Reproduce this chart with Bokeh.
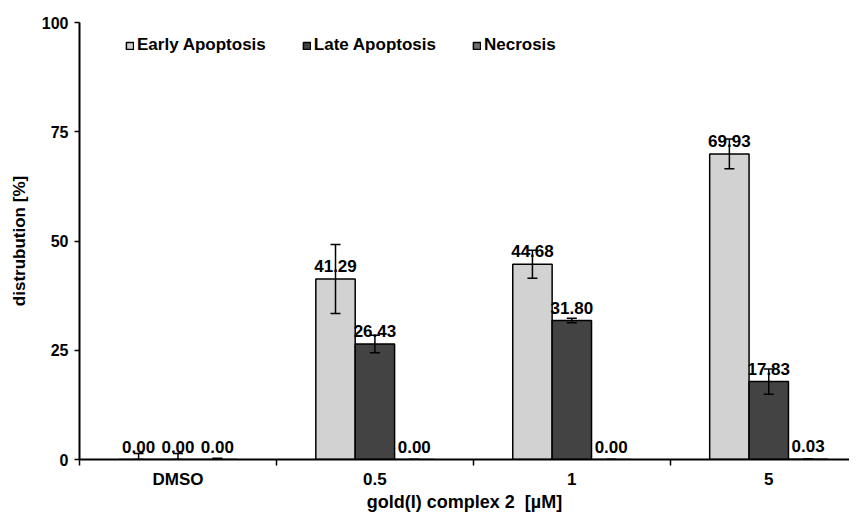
from bokeh.plotting import figure
from bokeh.models import (ColumnDataSource, FixedTicker, Whisker, TeeHead, Legend, LegendItem, Range1d)
from bokeh.embed import file_html
from bokeh.resources import INLINE
from bokeh.core.properties import value

categories = ["DMSO", "0.5", "1", "5"]
series = ["Early Apoptosis", "Late Apoptosis", "Necrosis"]
early = [0.00, 41.29, 44.68, 69.93]
late = [0.00, 26.43, 31.80, 17.83]
necrosis = [0.00, 0.00, 0.00, 0.03]
early_err = [1.4, 7.9, 3.2, 3.4]
late_err = [1.4, 2.0, 0.5, 2.9]
necrosis_err = [0.3, 0.0, 0.0, 0.1]
colors = ["#d2d2d2", "#434343", "#707070"]
y_ticks = [0, 25, 50, 75, 100]

FONT = "Liberation Sans"

p = figure(frame_width=770, frame_height=437, output_backend="svg", toolbar_location=None,
           x_range=Range1d(0, 3.91), y_range=Range1d(0, 100),
           min_border_left=79, min_border_right=0, min_border_top=22, min_border_bottom=45)
p.outline_line_color = None
p.xgrid.grid_line_color = None
p.ygrid.grid_line_color = None
p.background_fill_color = "white"

offsets = [-0.2, 0.0, 0.2]
vals = [early, late, necrosis]
errs = [early_err, late_err, necrosis_err]
renderers = []
for k in range(3):
    xs = [i + 0.5 + offsets[k] for i in range(len(categories))]
    src = ColumnDataSource(dict(
        x=xs, top=vals[k],
        upper=[v + e for v, e in zip(vals[k], errs[k])],
        lower=[max(v - e, 0) if v > 0 else v for v, e in zip(vals[k], errs[k])],
        label=["%.2f" % v for v in vals[k]],
    ))
    r = p.vbar(x="x", top="top", width=0.2, source=src, fill_color=colors[k],
               line_color="black", line_width=1.5)
    renderers.append(r)
    w = Whisker(base="x", upper="upper", lower="lower", source=src,
                line_color="black", line_width=1.5, level="overlay",
                upper_head=TeeHead(size=10, line_width=1.5, line_color="black"),
                lower_head=TeeHead(size=10, line_width=1.5, line_color="black"))
    p.add_layout(w)
    p.text(x="x", y="top", text="label", source=src, text_align="center",
           text_baseline="alphabetic", y_offset=-13, text_font=value(FONT),
           text_font_style="bold", text_font_size="17px", text_color="black")

# legend
legend = Legend(items=[LegendItem(label=series[k], renderers=[renderers[k]]) for k in range(3)],
                orientation="horizontal", location=(46, 404), margin=0, padding=10,
                spacing=36, glyph_width=9, glyph_height=9, label_standoff=3,
                label_text_font=FONT, label_text_font_style="bold", label_text_font_size="17px",
                label_text_color="black",
                border_line_color=None, background_fill_alpha=0)
p.add_layout(legend, "center")

# x axis
xa = p.xaxis[0]
xa.ticker = FixedTicker(ticks=[i + 0.5 for i in range(len(categories))],
                        minor_ticks=list(range(len(categories) + 1)))
xa.major_label_overrides = {i + 0.5: c for i, c in enumerate(categories)}
xa.major_tick_line_color = None
xa.major_tick_out = 6
xa.minor_tick_out = 6
xa.minor_tick_in = 0
xa.minor_tick_line_width = 1.5
xa.minor_tick_line_color = "black"
xa.axis_line_width = 2
xa.axis_line_color = "black"
xa.major_label_standoff = 4
xa.major_label_text_font = FONT
xa.major_label_text_font_style = "bold"
xa.major_label_text_font_size = "17px"
xa.major_label_text_color = "black"
xa.axis_label = "gold(I) complex 2\u00a0\u00a0[µM]"
xa.axis_label_text_font = FONT
xa.axis_label_text_font_style = "bold"
xa.axis_label_text_font_size = "18px"
xa.axis_label_text_color = "black"
xa.axis_label_standoff = 0

ya = p.yaxis[0]
ya.ticker = FixedTicker(ticks=y_ticks)
ya.minor_tick_line_color = None
ya.major_tick_out = 5
ya.major_tick_in = 0
ya.major_tick_line_width = 1.5
ya.major_tick_line_color = "black"
ya.axis_line_width = 2
ya.axis_line_color = "black"
ya.major_label_standoff = 6
ya.major_label_text_font = FONT
ya.major_label_text_font_style = "bold"
ya.major_label_text_font_size = "16px"
ya.major_label_text_color = "black"
ya.axis_label = "distrubution [%]"
ya.axis_label_text_font = FONT
ya.axis_label_text_font_style = "bold"
ya.axis_label_text_font_size = "17px"
ya.axis_label_text_color = "black"
ya.axis_label_standoff = 10

open("out.html", "w").write(file_html(p, INLINE))
